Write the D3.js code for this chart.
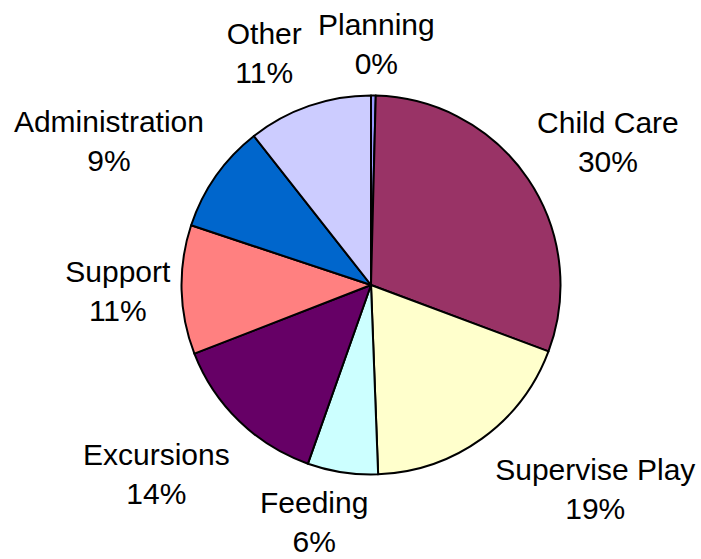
<!DOCTYPE html>
<html>
<head>
<meta charset="utf-8">
<script src="https://cdn.jsdelivr.net/npm/d3@7"></script>
<style>
  html, body { margin: 0; padding: 0; background: #ffffff; }
  svg { display: block; }
  text { font-family: "Liberation Sans", Arial, sans-serif; fill: #000; }
</style>
</head>
<body>
<svg id="chart" width="701" height="559"></svg>
<script>
// Share of time by activity, clockwise from 12 o'clock
const categories = ["Planning", "Child Care", "Supervise Play", "Feeding", "Excursions", "Support", "Administration", "Other"];
const values = [0.4, 30.3, 18.7, 6.0, 13.7, 11.0, 9.3, 10.6];
const colors = ["#9999ff", "#993366", "#ffffcc", "#ccffff", "#660066", "#ff8080", "#0066cc", "#ccccff"];

// Manual label nudges (px) away from the default outside position
const labelNudges = [[2, 24], [17, 5], [69, -11], [-17, -25], [-30, -2], [12, -1], [-45, 9], [-20, 19]];

const width = 701, height = 559;
const cx = 371, cy = 285, radius = 189.5;
const fontSize = 30, lineGap = 39;

const svg = d3.select("#chart");
const g = svg.append("g").attr("transform", `translate(${cx},${cy})`);

const rows = categories.map((c, i) => ({ name: c, value: values[i], color: colors[i], nudge: labelNudges[i] }));
const total = d3.sum(values);

const pie = d3.pie().sort(null).value(d => d.value).startAngle(0).endAngle(2 * Math.PI);
const arcs = pie(rows);

const arc = d3.arc().innerRadius(0).outerRadius(radius);
const labelArc = d3.arc().innerRadius(radius * 1.4).outerRadius(radius * 1.4);

g.selectAll("path.slice")
  .data(arcs)
  .join("path")
  .attr("class", "slice")
  .attr("d", arc)
  .attr("fill", d => d.data.color)
  .attr("stroke", "#000")
  .attr("stroke-width", 2)
  .attr("stroke-linejoin", "round");

const labels = g.selectAll("text.label")
  .data(arcs)
  .join("text")
  .attr("class", "label")
  .attr("text-anchor", "middle")
  .style("font-size", fontSize + "px")
  .attr("transform", d => {
    const [x, y] = labelArc.centroid(d);
    return `translate(${x + d.data.nudge[0]},${y + d.data.nudge[1]})`;
  });

labels.append("tspan")
  .attr("x", 0)
  .attr("y", -9)
  .text(d => d.data.name);

labels.append("tspan")
  .attr("x", 0)
  .attr("y", -9 + lineGap)
  .text(d => Math.round(d.data.value / total * 100) + "%");
</script>
</body>
</html>
